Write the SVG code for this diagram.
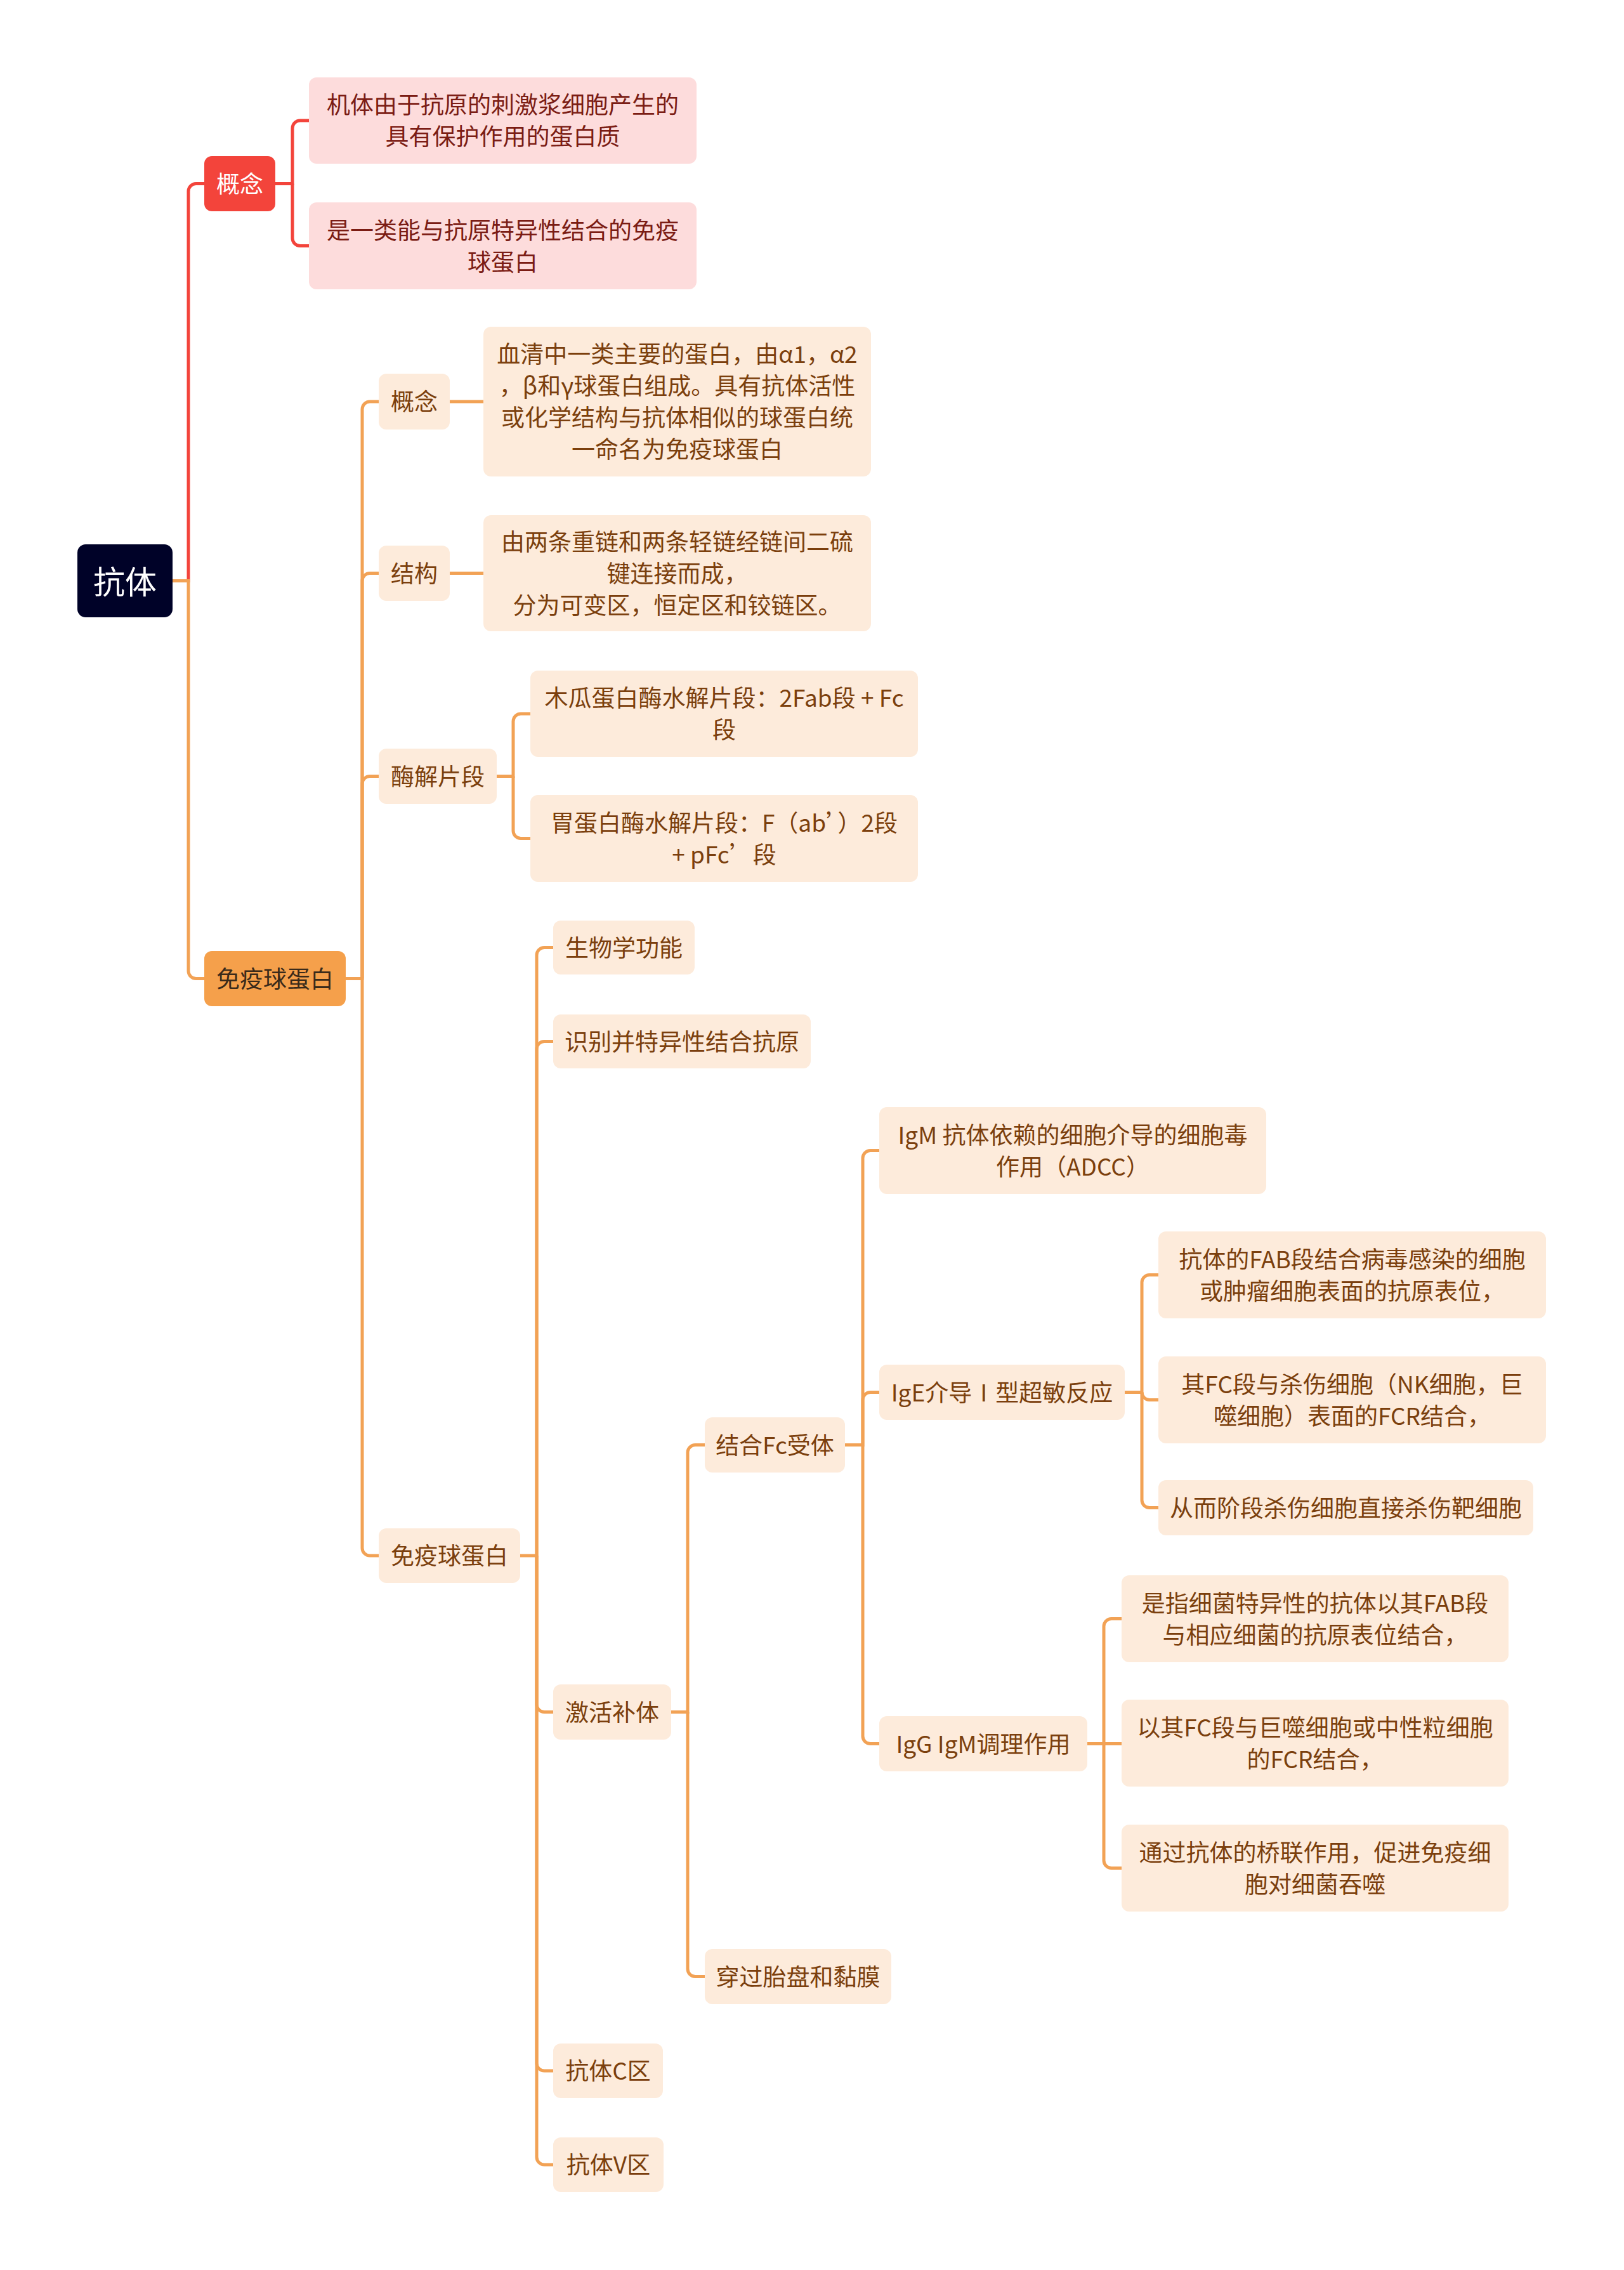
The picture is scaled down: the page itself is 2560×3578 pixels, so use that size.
<svg xmlns="http://www.w3.org/2000/svg" width="2560" height="3578" viewBox="0 0 2560 3578">
<style>
text{font-family:"Noto Sans CJK SC","Noto Sans",sans-serif;text-anchor:middle;dominant-baseline:central;transform:translateY(-2px)}
.t{font-size:37px;fill:#7b3f0d}
.tp{font-size:37px;fill:#7b1c14}
.tw{font-size:37px;fill:#ffffff}
.tr{font-size:50px;fill:#ffffff}
.tl1{font-size:37px;fill:#3a2a1a}
.n{fill:#fdebdb}
.np{fill:#fddcdc}
.co{fill:none;stroke:#f2a255;stroke-width:5}
.cr{fill:none;stroke:#f3443b;stroke-width:5}
</style>
<rect width="2560" height="3578" fill="#ffffff"/>
<g id="connectors">
<path class="cr" d="M272,915.5 H297 V301.5 A12,12 0 0 1 309,289.5 H322"/>
<path class="cr" d="M434,289.5 H461 V202 A12,12 0 0 1 473,190 H487"/>
<path class="cr" d="M461,289.5 V375.5 A12,12 0 0 0 473,387.5 H487"/>
<path class="co" d="M272,915.5 H297 V1530.5 A12,12 0 0 0 309,1542.5 H322"/>
<path class="co" d="M545,1542.5 H571 V645 A12,12 0 0 1 583,633 H597"/>
<path class="co" d="M571,1542.5 V915.5 A12,12 0 0 1 583,903.5 H597"/>
<path class="co" d="M571,1542.5 V1235.5 A12,12 0 0 1 583,1223.5 H597"/>
<path class="co" d="M571,1542.5 V2440 A12,12 0 0 0 583,2452 H597"/>
<path class="co" d="M709,633 H762"/>
<path class="co" d="M709,903.5 H762"/>
<path class="co" d="M783,1223.5 H809 V1137 A12,12 0 0 1 821,1125 H836"/>
<path class="co" d="M809,1223.5 V1309.5 A12,12 0 0 0 821,1321.5 H836"/>
<path class="co" d="M820,2452 H846 V1505.5 A12,12 0 0 1 858,1493.5 H872"/>
<path class="co" d="M846,2452 V1653.5 A12,12 0 0 1 858,1641.5 H872"/>
<path class="co" d="M846,2452 V2686.5 A12,12 0 0 0 858,2698.5 H872"/>
<path class="co" d="M846,2452 V3252 A12,12 0 0 0 858,3264 H872"/>
<path class="co" d="M846,2452 V3400 A12,12 0 0 0 858,3412 H872"/>
<path class="co" d="M1058,2698.5 H1084 V2289.5 A12,12 0 0 1 1096,2277.5 H1111"/>
<path class="co" d="M1084,2698.5 V3103.5 A12,12 0 0 0 1096,3115.5 H1111"/>
<path class="co" d="M1332,2277.5 H1360 V1825.5 A12,12 0 0 1 1372,1813.5 H1386"/>
<path class="co" d="M1360,2277.5 V2206.5 A12,12 0 0 1 1372,2194.5 H1386"/>
<path class="co" d="M1360,2277.5 V2736.5 A12,12 0 0 0 1372,2748.5 H1386"/>
<path class="co" d="M1773,2194.5 H1800 V2021.5 A12,12 0 0 1 1812,2009.5 H1826"/>
<path class="co" d="M1800,2194.5 A12,12 0 0 0 1812,2206.5 H1826"/>
<path class="co" d="M1800,2194.5 V2364.5 A12,12 0 0 0 1812,2376.5 H1826"/>
<path class="co" d="M1714,2748.5 H1740 V2563.5 A12,12 0 0 1 1752,2551.5 H1768"/>
<path class="co" d="M1740,2748.5 H1768"/>
<path class="co" d="M1740,2748.5 V2932.5 A12,12 0 0 0 1752,2944.5 H1768"/>
</g>
<g id="root"><rect x="122" y="858" width="150" height="115" rx="13" fill="#000228"/><text class="tr" x="197" y="915.5">抗体</text></g>
<g id="gainian-red"><rect x="322" y="246" width="112" height="87" rx="12" fill="#f3443b"/><text class="tw" x="378" y="289.5">概念</text></g>
<g id="gn-a"><rect class="np" x="487" y="122" width="611" height="136" rx="12"/><text class="tp"><tspan x="792.5" y="165">机体由于抗原的刺激浆细胞产生的</tspan><tspan x="792.5" y="215">具有保护作用的蛋白质</tspan></text></g>
<g id="gn-b"><rect class="np" x="487" y="319" width="611" height="137" rx="12"/><text class="tp"><tspan x="792.5" y="362.5">是一类能与抗原特异性结合的免疫</tspan><tspan x="792.5" y="412.5">球蛋白</tspan></text></g>
<g id="ig-l1"><rect x="322" y="1499" width="223" height="87" rx="12" fill="#f5a04b"/><text class="tl1" x="433.5" y="1542.5">免疫球蛋白</text></g>
<g id="ig-gainian"><rect class="n" x="597" y="589" width="112" height="88" rx="12"/><text class="t" x="653" y="633">概念</text></g>
<g id="ig-gainian-c"><rect class="n" x="762" y="515" width="611" height="236" rx="12"/><text class="t"><tspan x="1067.5" y="558">血清中一类主要的蛋白，由α1，α2</tspan><tspan x="1067.5" y="608">，β和γ球蛋白组成。具有抗体活性</tspan><tspan x="1067.5" y="658">或化学结构与抗体相似的球蛋白统</tspan><tspan x="1067.5" y="708">一命名为免疫球蛋白</tspan></text></g>
<g id="jiegou"><rect class="n" x="597" y="860" width="112" height="87" rx="12"/><text class="t" x="653" y="903.5">结构</text></g>
<g id="jiegou-c"><rect class="n" x="762" y="812" width="611" height="183" rx="12"/><text class="t"><tspan x="1067.5" y="853.5">由两条重链和两条轻链经链间二硫</tspan><tspan x="1067.5" y="903.5">键连接而成，</tspan><tspan x="1067.5" y="953.5">分为可变区，恒定区和铰链区。</tspan></text></g>
<g id="meijie"><rect class="n" x="597" y="1180" width="186" height="87" rx="12"/><text class="t" x="690" y="1223.5">酶解片段</text></g>
<g id="mugua"><rect class="n" x="836" y="1057" width="611" height="136" rx="12"/><text class="t"><tspan x="1141.5" y="1100">木瓜蛋白酶水解片段：2Fab段 + Fc</tspan><tspan x="1141.5" y="1150">段</tspan></text></g>
<g id="wei"><rect class="n" x="836" y="1253" width="611" height="137" rx="12"/><text class="t"><tspan x="1141.5" y="1296.5">胃蛋白酶水解片段：F（ab’）2段</tspan><tspan x="1141.5" y="1346.5">+ pFc’段</tspan></text></g>
<g id="ig-l2"><rect class="n" x="597" y="2409" width="223" height="86" rx="12"/><text class="t" x="708.5" y="2452">免疫球蛋白</text></g>
<g id="shengwu"><rect class="n" x="872" y="1451" width="223" height="85" rx="12"/><text class="t" x="983.5" y="1493.5">生物学功能</text></g>
<g id="shibie"><rect class="n" x="872" y="1599" width="406" height="85" rx="12"/><text class="t" x="1075" y="1641.5">识别并特异性结合抗原</text></g>
<g id="jihuo"><rect class="n" x="872" y="2655" width="186" height="87" rx="12"/><text class="t" x="965" y="2698.5">激活补体</text></g>
<g id="cqu"><rect class="n" x="872" y="3221" width="173" height="86" rx="12"/><text class="t" x="958.5" y="3264">抗体C区</text></g>
<g id="vqu"><rect class="n" x="872" y="3369" width="174" height="86" rx="12"/><text class="t" x="959" y="3412">抗体V区</text></g>
<g id="fc"><rect class="n" x="1111" y="2234" width="221" height="87" rx="12"/><text class="t" x="1221.5" y="2277.5">结合Fc受体</text></g>
<g id="taipan"><rect class="n" x="1111" y="3072" width="294" height="87" rx="12"/><text class="t" x="1258" y="3115.5">穿过胎盘和黏膜</text></g>
<g id="igm"><rect class="n" x="1386" y="1745" width="610" height="137" rx="12"/><text class="t"><tspan x="1691" y="1788.5">IgM 抗体依赖的细胞介导的细胞毒</tspan><tspan x="1691" y="1838.5">作用（ADCC）</tspan></text></g>
<g id="ige"><rect class="n" x="1386" y="2151" width="387" height="87" rx="12"/><text class="t" x="1579.5" y="2194.5">IgE介导Ⅰ型超敏反应</text></g>
<g id="igg"><rect class="n" x="1386" y="2705" width="328" height="87" rx="12"/><text class="t" x="1550" y="2748.5">IgG IgM调理作用</text></g>
<g id="ige-a"><rect class="n" x="1826" y="1941" width="611" height="137" rx="12"/><text class="t"><tspan x="2131.5" y="1984.5">抗体的FAB段结合病毒感染的细胞</tspan><tspan x="2131.5" y="2034.5">或肿瘤细胞表面的抗原表位，</tspan></text></g>
<g id="ige-b"><rect class="n" x="1826" y="2138" width="611" height="137" rx="12"/><text class="t"><tspan x="2131.5" y="2181.5">其FC段与杀伤细胞（NK细胞，巨</tspan><tspan x="2131.5" y="2231.5">噬细胞）表面的FCR结合，</tspan></text></g>
<g id="ige-c"><rect class="n" x="1826" y="2333" width="591" height="87" rx="12"/><text class="t" x="2121.5" y="2376.5">从而阶段杀伤细胞直接杀伤靶细胞</text></g>
<g id="igg-a"><rect class="n" x="1768" y="2483" width="610" height="137" rx="12"/><text class="t"><tspan x="2073" y="2526.5">是指细菌特异性的抗体以其FAB段</tspan><tspan x="2073" y="2576.5">与相应细菌的抗原表位结合，</tspan></text></g>
<g id="igg-b"><rect class="n" x="1768" y="2679" width="610" height="137" rx="12"/><text class="t"><tspan x="2073" y="2722.5">以其FC段与巨噬细胞或中性粒细胞</tspan><tspan x="2073" y="2772.5">的FCR结合，</tspan></text></g>
<g id="igg-c"><rect class="n" x="1768" y="2876" width="610" height="137" rx="12"/><text class="t"><tspan x="2073" y="2919.5">通过抗体的桥联作用，促进免疫细</tspan><tspan x="2073" y="2969.5">胞对细菌吞噬</tspan></text></g>
</svg>
